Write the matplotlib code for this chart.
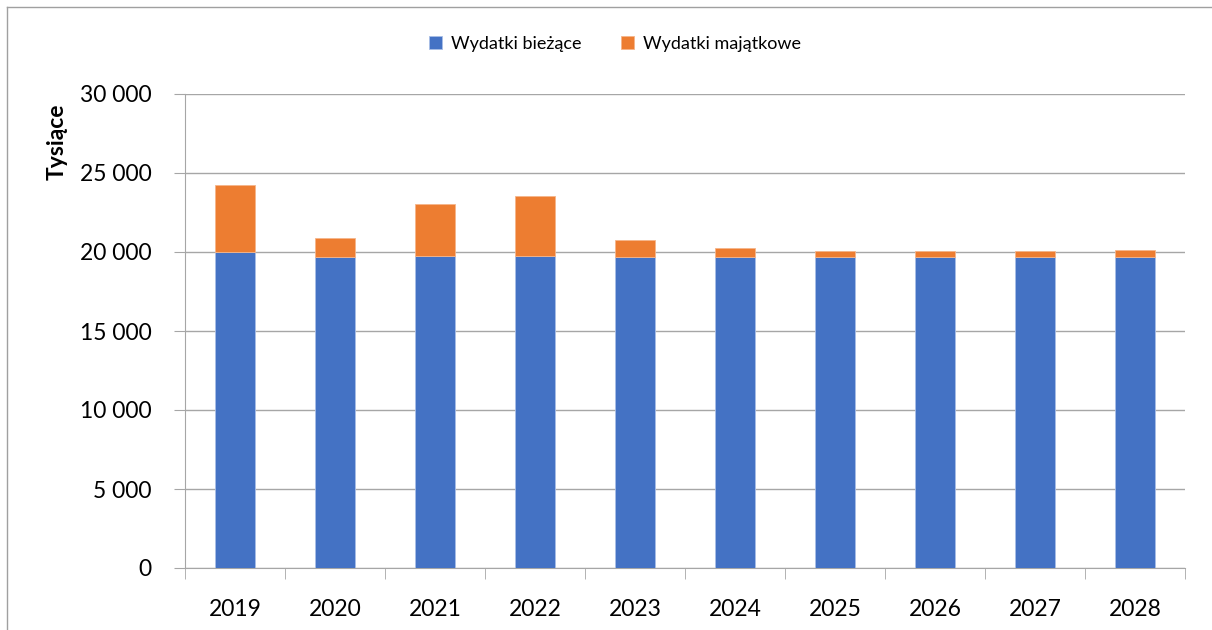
import matplotlib.pyplot as plt
from matplotlib.lines import Line2D
from matplotlib.ticker import FuncFormatter

plt.rcParams['font.family'] = ['Lato', 'DejaVu Sans']

years = ["2019", "2020", "2021", "2022", "2023", "2024", "2025", "2026", "2027", "2028"]
biezace = [20020, 19684, 19747, 19770, 19709, 19684, 19684, 19684, 19684, 19684]
totals = [24220, 20867, 23063, 23544, 20785, 20278, 20044, 20044, 20044, 20108]
majatkowe = [t - b for t, b in zip(totals, biezace)]

fig = plt.figure(figsize=(12.12, 6.3), dpi=100)
ax = fig.add_axes([185 / 1212, 1 - 568 / 630, 1000 / 1212, 474 / 630])

# ramka wykresu - widoczna tylko góra i lewa krawędź
top = 1 - 7 / 630
left = 7 / 1212
fig.lines.append(Line2D([left, 1], [top, top], transform=fig.transFigure,
                        color="#A0A0A0", linewidth=1))
fig.lines.append(Line2D([left, left], [0, top], transform=fig.transFigure,
                        color="#A0A0A0", linewidth=1))

x = range(len(years))
ax.bar(x, biezace, width=0.4, color="#4472C4", edgecolor="#A9BEE6",
       linewidth=0.6, label="Wydatki bieżące", zorder=3)
ax.bar(x, majatkowe, width=0.4, bottom=biezace, color="#ED7D31",
       edgecolor="#F5B58A", linewidth=0.6, label="Wydatki majątkowe", zorder=3)

ax.set_xlim(-0.5, len(years) - 0.5)
ax.set_ylim(0, 30000)
ax.set_yticks(range(0, 30001, 5000))
ax.yaxis.set_major_formatter(FuncFormatter(lambda v, p: f"{int(v):,}".replace(",", " ")))
ax.set_xticks(x)
ax.set_xticklabels(years)
ax.set_xticks([i - 0.5 for i in range(len(years) + 1)], minor=True)

ax.grid(axis="y", color="#A6A6A6", linewidth=1, zorder=0)
for s in ["top", "right"]:
    ax.spines[s].set_visible(False)
ax.spines["left"].set_color("#A6A6A6")
ax.spines["bottom"].set_color("#A6A6A6")
ax.tick_params(axis="y", length=8, color="#A6A6A6", labelsize=16.5, pad=16)
ax.tick_params(axis="x", which="major", length=0, labelsize=16.5, pad=22)
ax.tick_params(axis="x", which="minor", length=8, color="#A6A6A6")

fig.text(57 / 1212, 1 - 142 / 630, "Tysiące", rotation=90, fontsize=16.5,
         fontweight="bold", ha="center", va="center")

ax.legend(loc="center", bbox_to_anchor=(615 / 1212, 1 - 44 / 630),
          bbox_transform=fig.transFigure, ncol=2, frameon=False,
          fontsize=13, handlelength=0.7, handleheight=0.7,
          columnspacing=2.2, handletextpad=0.5)

fig.savefig("out.png", dpi=100)
